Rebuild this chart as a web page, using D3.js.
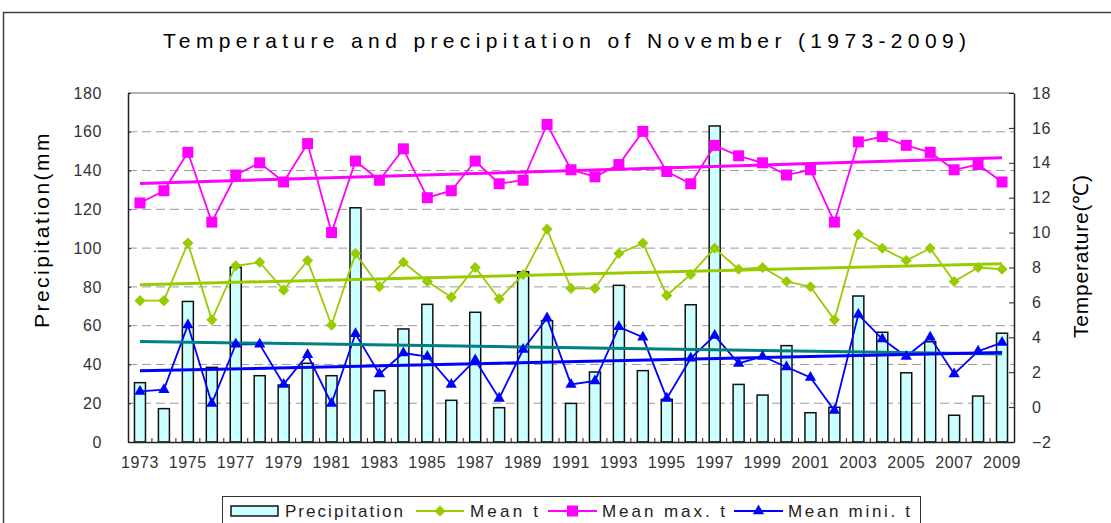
<!DOCTYPE html>
<html>
<head>
<meta charset="utf-8">
<script src="https://cdn.jsdelivr.net/npm/d3@7"></script>
<style>
  body { margin: 0; background: #fff; }
  text { font-family: "Liberation Sans", Arial, sans-serif; }
</style>
</head>
<body>
<script>
const years = [1973, 1974, 1975, 1976, 1977, 1978, 1979, 1980, 1981, 1982, 1983, 1984, 1985,
  1986, 1987, 1988, 1989, 1990, 1991, 1992, 1993, 1994, 1995, 1996, 1997, 1998, 1999,
  2000, 2001, 2002, 2003, 2004, 2005, 2006, 2007, 2008, 2009];
const yearLabels = [1973, 1975, 1977, 1979, 1981, 1983, 1985, 1987, 1989, 1991, 1993,
  1995, 1997, 1999, 2001, 2003, 2005, 2007, 2009];

// precipitation (mm)
const precip = [30.6, 17.2, 72.5, 38.5, 90.1, 34.2, 29.4, 40.6, 34.2, 120.8, 26.5, 58.3, 71.0,
  21.5, 66.9, 17.7, 87.8, 62.6, 19.9, 36.1, 80.8, 36.8, 22.0, 70.8, 163.0, 29.7, 24.2,
  49.7, 15.1, 17.9, 75.3, 56.6, 35.7, 51.7, 13.8, 23.7, 56.1];
// temperatures (deg C)
const meanT = [6.1, 6.1, 9.4, 5.0, 8.1, 8.3, 6.7, 8.4, 4.7, 8.8, 6.9, 8.3, 7.2,
  6.3, 8.0, 6.2, 7.6, 10.2, 6.8, 6.8, 8.8, 9.4, 6.4, 7.6, 9.1, 7.9, 8.0,
  7.2, 6.9, 5.0, 9.9, 9.1, 8.4, 9.1, 7.2, 8.0, 7.9];
const maxT = [11.7, 12.4, 14.6, 10.6, 13.3, 14.0, 12.9, 15.1, 10.0, 14.1, 13.0, 14.8, 12.0,
  12.4, 14.1, 12.8, 13.0, 16.2, 13.6, 13.2, 13.9, 15.8, 13.5, 12.8, 15.0, 14.4, 14.0,
  13.3, 13.6, 10.6, 15.2, 15.5, 15.0, 14.6, 13.6, 13.9, 12.9];
const minT = [0.9, 1.0, 4.7, 0.2, 3.6, 3.6, 1.3, 3.0, 0.2, 4.2, 1.9, 3.1, 2.9,
  1.3, 2.7, 0.5, 3.3, 5.1, 1.3, 1.5, 4.6, 4.0, 0.5, 2.8, 4.1, 2.5, 2.9,
  2.3, 1.7, -0.2, 5.3, 3.9, 2.9, 4.0, 1.9, 3.2, 3.7];

const precipTicks = [0, 20, 40, 60, 80, 100, 120, 140, 160, 180];
const tempTicks = [-2, 0, 2, 4, 6, 8, 10, 12, 14, 16, 18];

const width = 1111, height = 523;
const plotLeft = 128, plotRight = 1014, plotTop = 93, plotBottom = 442;

const svg = d3.select("body").append("svg")
    .attr("width", width)
    .attr("height", height);

// outer frame (runs off the picture on the right and bottom)
svg.append("rect")
    .attr("x", 3.5).attr("y", 12.5)
    .attr("width", 1200).attr("height", 700)
    .attr("fill", "none")
    .attr("stroke", "#404040")
    .attr("stroke-width", 1.5);

const x = d3.scaleBand().domain(years).range([plotLeft, plotRight]);
const yP = d3.scaleLinear().domain([0, 180]).range([plotBottom, plotTop]);
const yT = d3.scaleLinear().domain([-2, 18]).range([plotBottom, plotTop]);
const cx = d => x(d) + x.bandwidth() / 2;

// dashed gridlines
svg.append("g")
    .selectAll("line")
    .data(precipTicks.slice(1, -1))
    .enter()
    .append("line")
    .attr("x1", plotLeft).attr("x2", plotRight)
    .attr("y1", d => yP(d)).attr("y2", d => yP(d))
    .attr("stroke", "#9a9a9a")
    .attr("stroke-dasharray", "9,5");

// plot area top border
svg.append("line")
    .attr("x1", plotLeft).attr("x2", plotRight)
    .attr("y1", plotTop).attr("y2", plotTop)
    .attr("stroke", "#9a9a9a")
    .attr("stroke-width", 1.5);

// bars
const barW = 11;
svg.append("g")
    .selectAll("rect")
    .data(years)
    .enter()
    .append("rect")
    .attr("x", d => cx(d) - barW / 2)
    .attr("y", (d, i) => yP(precip[i]))
    .attr("width", barW)
    .attr("height", (d, i) => plotBottom - yP(precip[i]))
    .attr("fill", "#ccffff")
    .attr("stroke", "#111")
    .attr("stroke-width", 1.5);

// axes
const styleAxis = g => {
    g.select(".domain").attr("stroke", "#222").attr("stroke-width", 1.5);
    g.selectAll(".tick line").attr("stroke", "#222");
    g.selectAll(".tick text")
        .attr("fill", "#333")
        .style("font-size", "16px")
        .style("letter-spacing", "0.6px");
};

svg.append("g")
    .attr("transform", `translate(${plotLeft},0)`)
    .call(d3.axisLeft(yP).tickValues(precipTicks).tickSizeInner(-3).tickSizeOuter(0).tickPadding(26))
    .call(styleAxis);

svg.append("g")
    .attr("transform", `translate(${plotRight},0)`)
    .call(d3.axisRight(yT).tickValues(tempTicks).tickSizeInner(-5).tickSizeOuter(0).tickPadding(18))
    .call(styleAxis);

svg.append("g")
    .attr("transform", `translate(0,${plotBottom})`)
    .call(d3.axisBottom(x).tickValues(yearLabels).tickSize(0).tickPadding(14.5))
    .call(styleAxis);

// small category boundary ticks
svg.append("g")
    .selectAll("line")
    .data(years.slice(1))
    .enter()
    .append("line")
    .attr("x1", d => x(d)).attr("x2", d => x(d))
    .attr("y1", plotBottom).attr("y2", plotBottom - 4)
    .attr("stroke", "#222");

// linear trend (least squares over category index)
function trend(values) {
    const n = values.length;
    const xs = d3.range(n);
    const mx = d3.mean(xs), my = d3.mean(values);
    const b = d3.sum(xs, i => (i - mx) * (values[i] - my)) / d3.sum(xs, i => (i - mx) ** 2);
    const a = my - b * mx;
    return [a, a + b * (n - 1)];
}

const series = [
    { values: meanT, color: "#99cc00", symbol: "diamond" },
    { values: maxT, color: "#ff00ff", symbol: "square" },
    { values: minT, color: "#0000ff", symbol: "triangle" }
];

function marker(sel, type, color) {
    if (type === "diamond") {
        sel.append("path").attr("d", d3.symbol(d3.symbolSquare, 62)())
            .attr("transform", "rotate(45)");
    } else if (type === "square") {
        sel.append("path").attr("d", d3.symbol(d3.symbolSquare, 121)());
    } else {
        sel.append("path").attr("d", d3.symbol(d3.symbolTriangle, 55)());
    }
    sel.selectAll("path").attr("fill", color);
}

const line = d3.line().x((d, i) => cx(years[i])).y(d => yT(d));

series.forEach(s => {
    svg.append("path")
        .datum(s.values)
        .attr("d", line)
        .attr("fill", "none")
        .attr("stroke", s.color)
        .attr("stroke-width", 1.8);
});

// trend lines
const trends = [
    { ends: trend(precip), scale: yP, color: "#008080" },
    { ends: trend(meanT), scale: yT, color: "#99cc00" },
    { ends: trend(maxT), scale: yT, color: "#ff00ff" },
    { ends: trend(minT), scale: yT, color: "#0000ff" }
];
trends.forEach(t => {
    svg.append("line")
        .attr("x1", cx(years[0])).attr("x2", cx(years[years.length - 1]))
        .attr("y1", t.scale(t.ends[0])).attr("y2", t.scale(t.ends[1]))
        .attr("stroke", t.color)
        .attr("stroke-width", 3);
});

series.forEach(s => {
    svg.append("g")
        .selectAll("g")
        .data(s.values)
        .enter()
        .append("g")
        .attr("transform", (d, i) => `translate(${cx(years[i])},${yT(d)})`)
        .each(function() { marker(d3.select(this), s.symbol, s.color); });
});

// title
svg.append("text")
    .attr("x", 163).attr("y", 48)
    .attr("textLength", 803)
    .attr("lengthAdjust", "spacing")
    .style("font-size", "21px")
    .attr("fill", "#000")
    .text("Temperature and precipitation of November (1973-2009)");

// axis titles (left one is cut off at the top in the original)
svg.append("clipPath").attr("id", "clipL")
    .append("rect").attr("x", 0).attr("y", 131).attr("width", 120).attr("height", 300);

svg.append("g")
    .attr("clip-path", "url(#clipL)")
    .append("text")
    .attr("transform", "translate(49,328) rotate(-90)")
    .attr("textLength", 204)
    .attr("lengthAdjust", "spacing")
    .style("font-size", "21px")
    .attr("fill", "#000")
    .text("Precipitation(mm)");

svg.append("text")
    .attr("transform", "translate(1088,338) rotate(-90)")
    .attr("textLength", 163)
    .attr("lengthAdjust", "spacing")
    .style("font-size", "21px")
    .attr("fill", "#000")
    .text("Temperature(℃)");

// legend
const legend = svg.append("g");
legend.append("rect")
    .attr("x", 222.5).attr("y", 496.5)
    .attr("width", 698).attr("height", 60)
    .attr("fill", "#fff")
    .attr("stroke", "#333");

legend.append("rect")
    .attr("x", 231).attr("y", 506)
    .attr("width", 47).attr("height", 10)
    .attr("fill", "#ccffff")
    .attr("stroke", "#111")
    .attr("stroke-width", 1.5);

const legendItems = [
    { label: "Precipitation", tx: 285, len: 118 },
    { label: "Mean t", tx: 470, len: 68, x1: 416, x2: 464, color: "#99cc00", symbol: "diamond" },
    { label: "Mean max. t", tx: 602, len: 123, x1: 548, x2: 597, color: "#ff00ff", symbol: "square" },
    { label: "Mean mini. t", tx: 788, len: 122, x1: 734, x2: 783, color: "#0000ff", symbol: "triangle" }
];

legendItems.forEach(it => {
    if (it.color) {
        legend.append("line")
            .attr("x1", it.x1).attr("x2", it.x2)
            .attr("y1", 511).attr("y2", 511)
            .attr("stroke", it.color)
            .attr("stroke-width", 1.8);
        const m = legend.append("g")
            .attr("transform", `translate(${(it.x1 + it.x2) / 2},511)`);
        marker(m, it.symbol, it.color);
    }
    legend.append("text")
        .attr("x", it.tx).attr("y", 517)
        .attr("textLength", it.len)
        .attr("lengthAdjust", "spacing")
        .style("font-size", "17px")
        .attr("fill", "#222")
        .text(it.label);
});
</script>
</body>
</html>
